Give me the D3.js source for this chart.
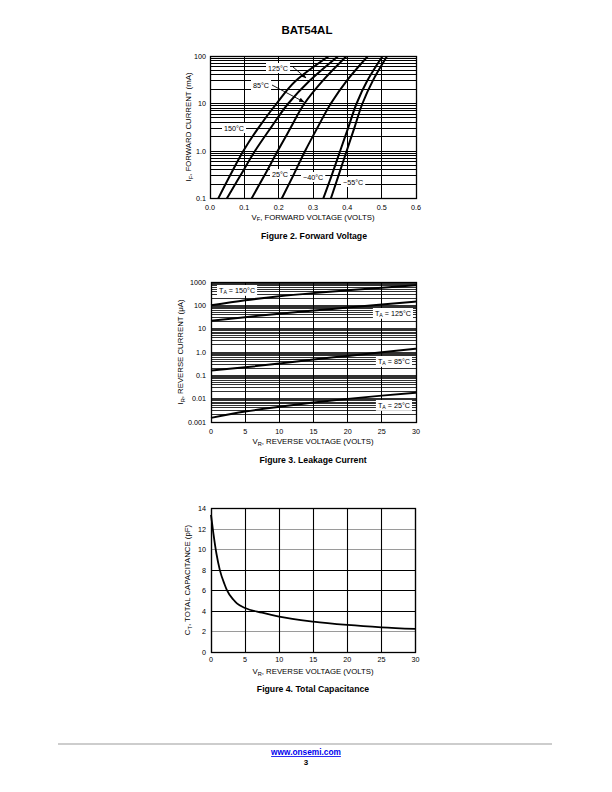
<!DOCTYPE html>
<html><head><meta charset="utf-8">
<script src="https://cdn.jsdelivr.net/npm/d3@7"></script>
<style>body{margin:0;background:#fff} svg text{font-family:"Liberation Sans",Arial,Helvetica,sans-serif;fill:#000}</style>
</head><body><svg id="c" width="612" height="792"></svg>
<script>
// ---------------- Figure 2 : Forward Voltage ----------------
const fwdCurrentMA = [0.1, 0.3, 1, 3, 10, 30, 100];
const fwdV150 = [0.024, 0.058, 0.097, 0.140, 0.194, 0.250, 0.347];
const fwdV125 = [0.049, 0.088, 0.131, 0.176, 0.228, 0.290, 0.374];
const fwdV85  = [0.121, 0.158, 0.197, 0.234, 0.275, 0.328, 0.398];
const fwdV25  = [0.209, 0.242, 0.277, 0.312, 0.352, 0.398, 0.460];
const fwdVm40 = [0.330, 0.354, 0.379, 0.402, 0.427, 0.458, 0.503];
const fwdVm55 = [0.352, 0.374, 0.398, 0.420, 0.444, 0.474, 0.516];
const fwdXTicks = [0, 0.1, 0.2, 0.3, 0.4, 0.5, 0.6];
const fwdXTickLabels = ["0.0", "0.1", "0.2", "0.3", "0.4", "0.5", "0.6"];
const fwdYTicks = [0.1, 1, 10, 100];
const fwdYTickLabels = ["0.1", "1.0", "10", "100"];

// ---------------- Figure 3 : Leakage Current ----------------
const leakVoltage = [0, 5, 10, 15, 20, 25, 30];
const leak150 = [100, 165, 245, 335, 440, 570, 720];
const leak125 = [22, 31, 44, 60, 80, 108, 145];
const leak85  = [0.16, 0.22, 0.32, 0.48, 0.68, 0.98, 1.38];
const leak25  = [0.0015, 0.0028, 0.0045, 0.0068, 0.0098, 0.0135, 0.018];
const leakXTicks = [0, 5, 10, 15, 20, 25, 30];
const leakYTicks = [0.001, 0.01, 0.1, 1, 10, 100, 1000];
const leakYTickLabels = ["0.001", "0.01", "0.1", "1.0", "10", "100", "1000"];

// ---------------- Figure 4 : Total Capacitance ----------------
const capVoltage = [0, 0.35, 0.8, 1.3, 2.0, 2.3, 3.3, 3.8, 5, 7.5, 10, 15, 20, 25, 30];
const capPF      = [13.4, 11.6, 9.6, 8.0, 6.6, 6.1, 5.1, 4.75, 4.3, 3.84, 3.45, 2.96, 2.64, 2.41, 2.25];
const capXTicks = [0, 5, 10, 15, 20, 25, 30];
const capYTicks = [0, 2, 4, 6, 8, 10, 12, 14];

const svg = d3.select("#c");
const TICK = 7.2, TITLE = 7.8, CAP = 8.7;
const px = v => Math.round(v - 0.5) + 0.5;

// Title
svg.append("text").attr("x", 307).attr("y", 34).attr("text-anchor", "middle")
  .attr("font-size", 11.5).attr("font-weight", "bold").text("BAT54AL");

function logGridValues(lo, hi) {
  const out = [];
  for (let e = Math.round(Math.log10(lo)); e < Math.round(Math.log10(hi)); e++) {
    for (let k = 1; k <= 9; k++) out.push(k * Math.pow(10, e));
  }
  out.push(hi);
  return out;
}

function subText(sel, x, y, pre, sub, post, size) {
  const t = sel.append("text").attr("x", x).attr("y", y).attr("font-size", size);
  if (pre) t.append("tspan").text(pre);
  if (sub) t.append("tspan").attr("font-size", size * 0.72).attr("dy", size * 0.25).text(sub);
  t.append("tspan").attr("dy", sub ? -size * 0.25 : 0).text(post);
  return t;
}

function boxLabel(g, x, y, pre, sub, post, anchor) {
  const size = 7.2;
  const t = subText(g, x, y, pre, sub, post, size).attr("text-anchor", anchor || "start");
  const b = t.node().getBBox();
  g.insert("rect", () => t.node()).attr("x", b.x - 2).attr("y", b.y - 0.5)
    .attr("width", b.width + 4).attr("height", b.height + 1).attr("fill", "#fff");
  return t;
}

function frame(g, x, y) {
  const [x0, x1] = x.range(); const [y0, y1] = y.range();
  g.append("rect").attr("x", px(x0)).attr("y", px(y1)).attr("width", px(x1) - px(x0)).attr("height", px(y0) - px(y1))
    .attr("fill", "none").attr("stroke", "#000").attr("stroke-width", 1.3);
}

// ======== Figure 2 ========
{
  const x = d3.scaleLinear().domain([0, 0.6]).range([210, 416]);
  const y = d3.scaleLog().domain([0.1, 100]).range([198.5, 56]);
  const g = svg.append("g");
  g.selectAll(".hg").data(logGridValues(0.1, 100)).join("line")
    .attr("x1", 210).attr("x2", 416).attr("y1", d => px(y(d))).attr("y2", d => px(y(d)))
    .attr("stroke", "#000").attr("stroke-width", 1);
  g.selectAll(".vg").data(fwdXTicks).join("line")
    .attr("x1", d => px(x(d))).attr("x2", d => px(x(d))).attr("y1", y(0.1)).attr("y2", y(100))
    .attr("stroke", "#000").attr("stroke-width", 1);
  frame(g, x, y);
  boxLabel(g, 268, 70.5, "", "", "125\u00B0C");
  boxLabel(g, 253, 87.5, "", "", "85\u00B0C");
  boxLabel(g, 224, 130.5, "", "", "150\u00B0C");
  boxLabel(g, 272, 176.5, "", "", "25\u00B0C");
  boxLabel(g, 303, 179.5, "", "", "\u221240\u00B0C");
  boxLabel(g, 343, 184.5, "", "", "\u221255\u00B0C");
  svg.append("clipPath").attr("id", "clip2").append("rect")
    .attr("x", 210).attr("y", 56).attr("width", 206).attr("height", 142.5);
  const line = d3.line().x(d => x(d[0])).y(d => y(d[1])).curve(d3.curveMonotoneY);
  [fwdV150, fwdV125, fwdV85, fwdV25, fwdVm40, fwdVm55].forEach(s => {
    g.append("path").attr("clip-path", "url(#clip2)")
      .attr("d", line(s.map((v, i) => [v, fwdCurrentMA[i]])))
      .attr("fill", "none").attr("stroke", "#000").attr("stroke-width", 2);
  });
  const defs = svg.append("defs");
  defs.append("marker").attr("id", "arr").attr("viewBox", "0 0 10 10").attr("refX", 9).attr("refY", 5)
    .attr("markerWidth", 6).attr("markerHeight", 6).attr("orient", "auto")
    .append("path").attr("d", "M0,1 L10,5 L0,9 Z").attr("fill", "#000");
  g.append("line").attr("x1", 293).attr("y1", 67).attr("x2", 306).attr("y2", 78)
    .attr("stroke", "#000").attr("stroke-width", 0.9).attr("marker-end", "url(#arr)");
  g.append("line").attr("x1", 272).attr("y1", 85).attr("x2", 304).attr("y2", 102)
    .attr("stroke", "#000").attr("stroke-width", 0.9).attr("marker-end", "url(#arr)");
  g.selectAll(".xt").data(fwdXTicks).join("text").attr("x", d => x(d)).attr("y", 209.5)
    .attr("text-anchor", "middle").attr("font-size", TICK).text((d, i) => fwdXTickLabels[i]);
  g.selectAll(".yt").data(fwdYTicks).join("text").attr("x", 206).attr("y", d => y(d) + 2.5)
    .attr("text-anchor", "end").attr("font-size", TICK).text((d, i) => fwdYTickLabels[i]);
  subText(g, 313, 219.5, "V", "F", ", FORWARD VOLTAGE (VOLTS)", TITLE).attr("text-anchor", "middle");
  subText(g, 0, 0, "I", "F", ", FORWARD CURRENT (mA)", TITLE).attr("text-anchor", "middle")
    .attr("transform", "translate(191,127) rotate(-90)");
  g.append("text").attr("x", 314).attr("y", 239).attr("text-anchor", "middle")
    .attr("font-size", CAP).attr("font-weight", "bold").text("Figure 2. Forward Voltage");
}

// ======== Figure 3 ========
{
  const x = d3.scaleLinear().domain([0, 30]).range([211, 416]);
  const y = d3.scaleLog().domain([0.001, 1000]).range([422, 282]);
  const g = svg.append("g");
  g.selectAll(".hg").data(logGridValues(0.001, 1000)).join("line")
    .attr("x1", 211).attr("x2", 416).attr("y1", d => px(y(d))).attr("y2", d => px(y(d)))
    .attr("stroke", "#1a1a1a").attr("stroke-width", 0.9);
  g.selectAll(".vg").data(leakXTicks).join("line")
    .attr("x1", d => px(x(d))).attr("x2", d => px(x(d))).attr("y1", y(0.001)).attr("y2", y(1000))
    .attr("stroke", "#000").attr("stroke-width", 1);
  frame(g, x, y);
  boxLabel(g, 219, 292.5, "T", "A", " = 150\u00B0C");
  boxLabel(g, 411, 315.5, "T", "A", " = 125\u00B0C", "end");
  boxLabel(g, 410, 363.5, "T", "A", " = 85\u00B0C", "end");
  boxLabel(g, 410, 407.5, "T", "A", " = 25\u00B0C", "end");
  const line = d3.line().x(d => x(d[0])).y(d => y(d[1])).curve(d3.curveMonotoneX);
  [leak150, leak125, leak85, leak25].forEach(s => {
    g.append("path").attr("d", line(s.map((v, i) => [leakVoltage[i], v])))
      .attr("fill", "none").attr("stroke", "#000").attr("stroke-width", 2);
  });
  g.selectAll(".xt").data(leakXTicks).join("text").attr("x", d => x(d)).attr("y", 433.5)
    .attr("text-anchor", "middle").attr("font-size", TICK).text(d => d);
  g.selectAll(".yt").data(leakYTicks).join("text").attr("x", 206).attr("y", d => y(d) + 2.5)
    .attr("text-anchor", "end").attr("font-size", TICK).text((d, i) => leakYTickLabels[i]);
  subText(g, 313, 444, "V", "R", ", REVERSE VOLTAGE (VOLTS)", TITLE).attr("text-anchor", "middle");
  subText(g, 0, 0, "I", "R", ", REVERSE CURRENT (\u03BCA)", TITLE).attr("text-anchor", "middle")
    .attr("transform", "translate(183,352) rotate(-90)");
  g.append("text").attr("x", 313).attr("y", 463).attr("text-anchor", "middle")
    .attr("font-size", CAP).attr("font-weight", "bold").text("Figure 3. Leakage Current");
}

// ======== Figure 4 ========
{
  const x = d3.scaleLinear().domain([0, 30]).range([211, 415.5]);
  const y = d3.scaleLinear().domain([0, 14]).range([652, 508.7]);
  const g = svg.append("g");
  const grayLines = [2, 10, 12];
  g.selectAll(".hg").data(capYTicks.slice(1, -1)).join("line")
    .attr("x1", x(0)).attr("x2", x(30)).attr("y1", d => px(y(d))).attr("y2", d => px(y(d)))
    .attr("stroke", d => grayLines.includes(d) ? "#9a9a9a" : "#000").attr("stroke-width", 1.1);
  g.selectAll(".vg").data(capXTicks).join("line")
    .attr("x1", d => px(x(d))).attr("x2", d => px(x(d))).attr("y1", y(0)).attr("y2", y(14))
    .attr("stroke", "#000").attr("stroke-width", 1.1);
  frame(g, x, y);
  const line = d3.line().x(d => x(d[0])).y(d => y(d[1])).curve(d3.curveMonotoneX);
  g.append("path").attr("d", line(capVoltage.map((v, i) => [v, capPF[i]])))
    .attr("fill", "none").attr("stroke", "#000").attr("stroke-width", 1.8);
  g.selectAll(".xt").data(capXTicks).join("text").attr("x", d => x(d)).attr("y", 662)
    .attr("text-anchor", "middle").attr("font-size", TICK).text(d => d);
  g.selectAll(".yt").data(capYTicks).join("text").attr("x", 206).attr("y", d => y(d) + 2.5)
    .attr("text-anchor", "end").attr("font-size", TICK).text(d => d);
  subText(g, 313, 674, "V", "R", ", REVERSE VOLTAGE (VOLTS)", TITLE).attr("text-anchor", "middle");
  subText(g, 0, 0, "C", "T", ", TOTAL CAPACITANCE (pF)", TITLE).attr("text-anchor", "middle")
    .attr("transform", "translate(190,580) rotate(-90)");
  g.append("text").attr("x", 313).attr("y", 692).attr("text-anchor", "middle")
    .attr("font-size", CAP).attr("font-weight", "bold").text("Figure 4. Total Capacitance");
}

// Footer
svg.append("line").attr("x1", 58).attr("x2", 552).attr("y1", 744).attr("y2", 744)
  .attr("stroke", "#bdbdbd").attr("stroke-width", 1.6);
svg.append("text").attr("x", 306).attr("y", 755).attr("text-anchor", "middle").attr("font-size", 8.3)
  .attr("font-weight", "bold").style("fill", "#0000ee").attr("text-decoration", "underline").text("www.onsemi.com");
svg.append("text").attr("x", 306).attr("y", 764.5).attr("text-anchor", "middle").attr("font-size", 8)
  .attr("font-weight", "bold").text("3");
</script></body></html>
